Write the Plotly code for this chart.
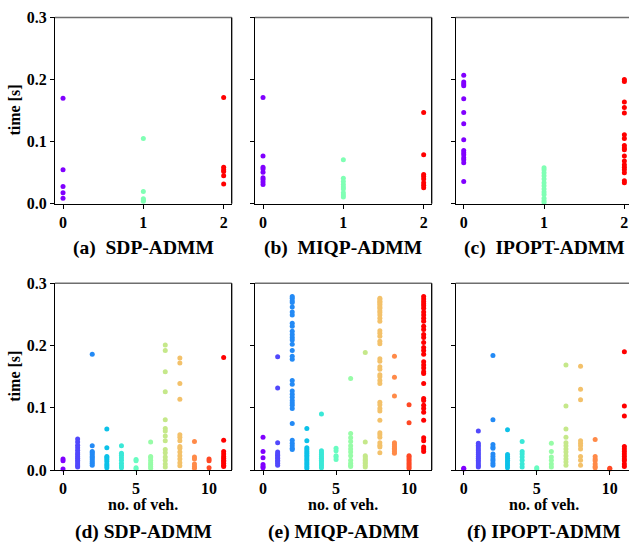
import plotly.graph_objects as go
import math

# ---------------- data ----------------
veh_top = [0, 1, 2]
veh_bottom = list(range(12))

sdp_top = [
    [0.17, 0.055, 0.028, 0.018, 0.009],
    [0.105, 0.02, 0.008, 0.006, 0.004],
    [0.171, 0.059, 0.055, 0.052, 0.045, 0.032],
]
miqp_top = [
    [0.171, 0.077, 0.059, 0.056, 0.051, 0.042, 0.039, 0.035, 0.031],
    [0.071, 0.041, 0.036, 0.031, 0.027, 0.024, 0.018, 0.014, 0.011],
    [0.147, 0.079, 0.047, 0.044, 0.04, 0.034, 0.03, 0.026],
]
ipopt_top = [
    [0.207, 0.196, 0.193, 0.19, 0.169, 0.147, 0.129, 0.103, 0.086, 0.082, 0.079, 0.074, 0.071, 0.066, 0.036],
    [0.058, 0.055, 0.05, 0.045, 0.04, 0.034, 0.029, 0.024, 0.019, 0.015, 0.009, 0.005, 0.002],
    [0.2, 0.197, 0.164, 0.155, 0.146, 0.111, 0.105, 0.094, 0.09, 0.087, 0.077, 0.069, 0.063, 0.059, 0.055, 0.05, 0.037, 0.034],
]

sdp_bottom = [
    [0.018, 0.015, 0.002],
    [0.05, 0.045, 0.04, 0.036, 0.032, 0.028, 0.025, 0.022, 0.019, 0.016, 0.013, 0.01, 0.007, 0.005],
    [0.186, 0.039, 0.03, 0.028, 0.025, 0.022, 0.02, 0.017, 0.014, 0.011, 0.008],
    [0.066, 0.036, 0.022, 0.02, 0.017, 0.014, 0.01, 0.007, 0.004],
    [0.039, 0.027, 0.024, 0.02, 0.016, 0.011, 0.007, 0.004],
    [0.017, 0.015, 0.004, 0.002],
    [0.045, 0.022, 0.02, 0.016, 0.012, 0.009, 0.006, 0.003],
    [0.201, 0.192, 0.158, 0.126, 0.081, 0.067, 0.063, 0.055, 0.047, 0.033, 0.028, 0.021, 0.016, 0.01, 0.005],
    [0.18, 0.172, 0.139, 0.114, 0.057, 0.053, 0.047, 0.038, 0.035, 0.029, 0.023, 0.018, 0.012, 0.007],
    [0.046, 0.021, 0.018, 0.01, 0.006, 0.003],
    [0.018, 0.015, 0.004],
    [0.181, 0.048, 0.03, 0.026, 0.022, 0.019, 0.016, 0.014, 0.011, 0.008, 0.006],
]
miqp_bottom = [
    [0.053, 0.03, 0.02, 0.009, 0.006, 0.004],
    [0.182, 0.132, 0.044, 0.029, 0.026, 0.024, 0.021, 0.019, 0.016, 0.014, 0.011, 0.008],
    [0.279, 0.276, 0.272, 0.269, 0.262, 0.254, 0.249, 0.236, 0.231, 0.223, 0.218, 0.213, 0.209, 0.202,
     0.192, 0.183, 0.178, 0.144, 0.138, 0.127, 0.122, 0.117, 0.112, 0.108, 0.104, 0.099, 0.075,
     0.048, 0.043, 0.039, 0.035, 0.033],
    [0.067, 0.047, 0.036, 0.033, 0.03, 0.027, 0.024, 0.021, 0.018, 0.015, 0.012, 0.009, 0.006, 0.003],
    [0.09, 0.031, 0.028, 0.025, 0.022, 0.019, 0.016, 0.013, 0.01, 0.007, 0.004],
    [0.035, 0.031, 0.023, 0.021, 0.017],
    [0.147, 0.059, 0.052, 0.046, 0.039, 0.034, 0.029, 0.023, 0.016, 0.011, 0.008, 0.006],
    [0.189, 0.045, 0.023, 0.021, 0.018, 0.016, 0.013, 0.011, 0.008, 0.005],
    [0.276, 0.274, 0.271, 0.27, 0.267, 0.265, 0.262, 0.26, 0.256, 0.253, 0.249, 0.244, 0.239, 0.224,
     0.22, 0.215, 0.207, 0.203, 0.179, 0.175, 0.166, 0.162, 0.153, 0.15, 0.144, 0.139, 0.109, 0.105,
     0.099, 0.095, 0.08, 0.06, 0.057, 0.053, 0.044, 0.04, 0.037, 0.028],
    [0.183, 0.149, 0.119, 0.044, 0.041, 0.038, 0.035, 0.033, 0.03, 0.027],
    [0.105, 0.076, 0.023, 0.021, 0.018, 0.015, 0.012, 0.009, 0.006, 0.003],
    [0.279, 0.275, 0.271, 0.267, 0.264, 0.26, 0.254, 0.249, 0.244, 0.239, 0.231, 0.226, 0.218, 0.213,
     0.205, 0.197, 0.192, 0.186, 0.174, 0.169, 0.164, 0.158, 0.155, 0.139, 0.115, 0.112, 0.104, 0.099,
     0.093, 0.08, 0.052, 0.047, 0.037, 0.034, 0.03],
]
ipopt_bottom = [
    [0.003, 0.002],
    [0.063, 0.043, 0.04, 0.037, 0.034, 0.031, 0.028, 0.025, 0.022, 0.019, 0.016, 0.013, 0.01, 0.007, 0.005],
    [0.184, 0.081, 0.041, 0.037, 0.035, 0.026, 0.022, 0.018, 0.015, 0.011, 0.008],
    [0.065, 0.025, 0.022, 0.019, 0.016, 0.013, 0.01, 0.007, 0.004],
    [0.046, 0.03, 0.026, 0.021, 0.016, 0.01, 0.005],
    [0.004, 0.002],
    [0.043, 0.03, 0.021, 0.016, 0.01, 0.005],
    [0.169, 0.103, 0.066, 0.053, 0.044, 0.039, 0.034, 0.029, 0.023, 0.018, 0.013, 0.008],
    [0.167, 0.13, 0.113, 0.047, 0.043, 0.039, 0.034, 0.022, 0.016, 0.008],
    [0.049, 0.022, 0.018, 0.015, 0.01, 0.006, 0.004],
    [0.003, 0.002],
    [0.19, 0.103, 0.087, 0.038, 0.034, 0.03, 0.026, 0.022, 0.018, 0.015, 0.01, 0.006],
]

titles_top = ["(a)  SDP-ADMM", "(b)  MIQP-ADMM", "(c)  IPOPT-ADMM"]
titles_bottom = ["(d) SDP-ADMM", "(e) MIQP-ADMM", "(f) IPOPT-ADMM"]
y_ticks = [0.0, 0.1, 0.2, 0.3]
y_tick_text = ["0.0", "0.1", "0.2", "0.3"]
x_ticks_top = [0, 1, 2]
x_ticks_bottom = [0, 5, 10]

# ---------------- style ----------------
W, H = 629, 556
FONT = "Liberation Serif"


def rainbow(t):
    r = min(1.0, abs(2 * t - 0.5))
    g = max(0.0, min(1.0, math.sin(t * math.pi)))
    b = max(0.0, min(1.0, math.cos(t * math.pi / 2)))
    return "rgb(%d,%d,%d)" % (round(r * 255), round(g * 255), round(b * 255))


col_px = [(55.0, 231.7), (255.0, 431.7), (455.7, 629.0)]
row_px = [(9.7, 202.0), (284.0, 476.7)]
full_w = 176.7


def px_x(p):
    return p / W


def px_y(p):
    return 1 - p / H


fig = go.Figure()
layout = dict(
    width=W, height=H, margin=dict(l=0, r=0, t=0, b=0, pad=0), autosize=False,
    paper_bgcolor="white", plot_bgcolor="white", showlegend=False,
    font=dict(family=FONT, size=16, color="black"),
)
shapes = []
annotations = []

panels = [
    (0, 0, sdp_top, veh_top, x_ticks_top, (-0.1, 2.1)),
    (0, 1, miqp_top, veh_top, x_ticks_top, (-0.1, 2.1)),
    (0, 2, ipopt_top, veh_top, x_ticks_top, (-0.1, 2.1)),
    (1, 0, sdp_bottom, veh_bottom, x_ticks_bottom, (-0.55, 11.55)),
    (1, 1, miqp_bottom, veh_bottom, x_ticks_bottom, (-0.55, 11.55)),
    (1, 2, ipopt_bottom, veh_bottom, x_ticks_bottom, (-0.55, 11.55)),
]

for k, (r, c, data, cats, xt, xr) in enumerate(panels):
    idx = k + 1
    xa = "x" if idx == 1 else "x%d" % idx
    ya = "y" if idx == 1 else "y%d" % idx
    n = len(cats)
    for i, (cat, vals) in enumerate(zip(cats, data)):
        fig.add_trace(go.Scatter(
            x=[cat] * len(vals), y=vals, mode="markers",
            marker=dict(size=5, color=rainbow(i / (n - 1)), line=dict(width=0)),
            xaxis=xa, yaxis=ya, cliponaxis=False,
        ))
    x0p, x1p = col_px[c]
    y0p, y1p = row_px[r]
    scale = full_w / (xr[1] - xr[0])
    xr_right = xr[0] + (x1p - x0p) / scale
    xkey = "xaxis" if idx == 1 else "xaxis%d" % idx
    ykey = "yaxis" if idx == 1 else "yaxis%d" % idx
    layout[xkey] = dict(
        domain=[px_x(x0p), px_x(x1p)], anchor=ya, range=[xr[0], xr_right],
        tickvals=xt, ticks="outside", ticklen=4, tickwidth=1.2, tickcolor="black",
        showline=True, linecolor="black", linewidth=1.3, showgrid=False, zeroline=False,
        tickfont=dict(family=FONT, size=16, color="black", weight="bold"),
    )
    layout[ykey] = dict(
        domain=[px_y(y1p), px_y(y0p)], anchor=xa, range=[0, 0.3],
        tickvals=y_ticks, ticktext=y_tick_text, ticks="outside", ticklen=4,
        tickwidth=1.2, tickcolor="black", showticklabels=(c == 0),
        showline=True, linecolor="black", linewidth=1.3, showgrid=False, zeroline=False,
        tickfont=dict(family=FONT, size=16, color="black", weight="bold"),
    )
    shapes.append(dict(type="line", xref="paper", yref="paper",
                       x0=px_x(x0p), x1=px_x(x1p), y0=px_y(y0p), y1=px_y(y0p),
                       line=dict(color="#6e6e6e", width=1.5)))
    if c < 2:
        shapes.append(dict(type="line", xref="paper", yref="paper",
                           x0=px_x(x1p), x1=px_x(x1p), y0=px_y(y0p), y1=px_y(y1p),
                           line=dict(color="black", width=1.3)))
    cx = (x0p + x0p + full_w) / 2
    title = titles_top[c] if r == 0 else titles_bottom[c]
    ty = 248 if r == 0 else 541
    annotations.append(dict(text="<b>%s</b>" % title, x=px_x(cx), y=px_y(ty),
                            xref="paper", yref="paper", showarrow=False,
                            xanchor="center", yanchor="middle",
                            font=dict(family=FONT, size=19.5, color="black")))
    if c == 0:
        annotations.append(dict(text="<b>time [s]</b>", x=px_x(15), y=px_y((y0p + y1p) / 2),
                                xref="paper", yref="paper", showarrow=False, textangle=-90,
                                xanchor="center", yanchor="middle",
                                font=dict(family=FONT, size=16, color="black")))
    if r == 1:
        annotations.append(dict(text="<b>no. of veh.</b>", x=px_x(cx), y=px_y(512),
                                xref="paper", yref="paper", showarrow=False,
                                xanchor="center", yanchor="middle",
                                font=dict(family=FONT, size=16, color="black")))

layout["shapes"] = shapes
layout["annotations"] = annotations
fig.update_layout(**layout)
fig.write_html("out.html")
